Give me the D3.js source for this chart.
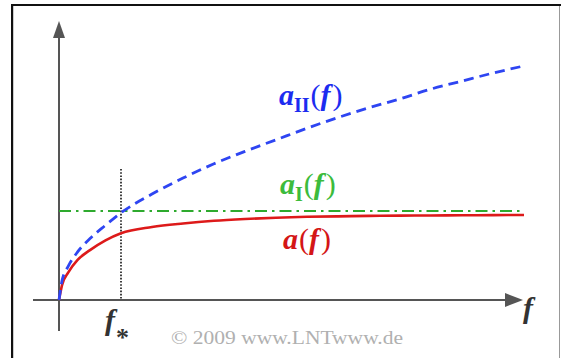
<!DOCTYPE html>
<html>
<head>
<meta charset="utf-8">
<script src="https://cdn.jsdelivr.net/npm/d3@7"></script>
<style>
html,body{margin:0;padding:0;background:#fff;}
svg{display:block;}
</style>
</head>
<body>
<svg id="chart" width="561" height="358"></svg>
<script>
// ---- data (arbitrary units, f* = 1, a_I = 1) ----
const fValues   = [0, 0.05, 0.15, 0.3, 0.5, 0.75, 1, 1.5, 2, 2.5, 3, 3.5, 4, 4.5, 5, 5.5, 6, 6.5, 7, 7.5];
const aValues   = [0, 0.17, 0.31, 0.45, 0.56, 0.67, 0.75, 0.82, 0.86, 0.89, 0.91, 0.925, 0.935, 0.94, 0.945, 0.948, 0.95, 0.952, 0.954, 0.955];
const aIIValues = [0, 0.22, 0.38, 0.54, 0.69, 0.84, 0.98, 1.19, 1.37, 1.53, 1.67, 1.80, 1.93, 2.05, 2.16, 2.26, 2.37, 2.46, 2.55, 2.63];
const aIValue   = 1;
const fStar     = 1;
const copyright = "\u00A9 2009 www.LNTwww.de";

const svg = d3.select("#chart");

// frame
svg.append("line").attr("x1",12).attr("y1",5).attr("x2",561).attr("y2",5).attr("stroke","#111").attr("stroke-width",2);
svg.append("line").attr("x1",12).attr("y1",4).attr("x2",12).attr("y2",358).attr("stroke","#111").attr("stroke-width",2);
svg.append("line").attr("x1",13.5).attr("y1",6).attr("x2",13.5).attr("y2",358).attr("stroke","#ccc").attr("stroke-width",1);
svg.append("line").attr("x1",559.5).attr("y1",6).attr("x2",559.5).attr("y2",358).attr("stroke","#999").attr("stroke-width",1);

// scales
const x = d3.scaleLinear().domain([0, 7.5]).range([59, 524]);
const y = d3.scaleLinear().domain([0, 1]).range([300, 211]);

const axisColor = "#555";
// x axis
svg.append("line").attr("x1",33).attr("x2",506).attr("y1",y(0)).attr("y2",y(0))
  .attr("stroke",axisColor).attr("stroke-width",2);
svg.append("path").attr("d",`M505,293 L523,${y(0)} L505,307 Z`).attr("fill",axisColor);
// y axis
svg.append("line").attr("x1",x(0)).attr("x2",x(0)).attr("y1",331).attr("y2",36)
  .attr("stroke",axisColor).attr("stroke-width",2);
svg.append("path").attr("d",`M53,38 L${x(0)},21 L65,38 Z`).attr("fill",axisColor);

// f* dotted line
svg.append("line").attr("x1",x(fStar)).attr("x2",x(fStar)).attr("y1",169).attr("y2",y(0))
  .attr("stroke","#111").attr("stroke-width",1.6).attr("stroke-dasharray","1.6,1.6");

const line = (vals) => d3.line().x((d,i)=>x(fValues[i])).y(d=>y(d)).curve(d3.curveMonotoneX)(vals);

// a_I (green dash-dot)
svg.append("line").attr("x1",x(0)).attr("x2",x(7.5)).attr("y1",y(aIValue)).attr("y2",y(aIValue))
  .attr("stroke","#2eaa2e").attr("stroke-width",2).attr("stroke-dasharray","12,5,2.5,5");

// a (red solid)
svg.append("path").attr("d",line(aValues)).attr("fill","none")
  .attr("stroke","#dd1a1a").attr("stroke-width",2.6);

// a_II (blue dashed)
svg.append("path").attr("d",line(aIIValues)).attr("fill","none")
  .attr("stroke","#2e45f2").attr("stroke-width",2.8).attr("stroke-dasharray","10,6");

// labels
const serif = "'Liberation Serif','Times New Roman',serif";
function label(xp, yp, sub, color){
  const t = svg.append("text").attr("x",xp).attr("y",yp).attr("fill",color)
    .attr("font-family",serif).attr("font-size",30);
  t.append("tspan").attr("font-style","italic").attr("font-weight","bold").text("a");
  if(sub){
    t.append("tspan").attr("font-size",20).attr("font-weight","bold").attr("dy",7).text(sub);
    t.append("tspan").attr("dy",-7).attr("dx",1).text("(");
  } else {
    t.append("tspan").attr("dx",1).text("(");
  }
  t.append("tspan").attr("font-style","italic").attr("font-weight","bold").text("f");
  t.append("tspan").attr("dx",2).text(")");
}
label(279, 105, "II", "#1c2cf0");
label(280, 194, "I", "#3cbb3c");
label(283, 249, null, "#d41616");

// axis label f
svg.append("text").attr("x",523).attr("y",318).attr("fill","#333")
  .attr("font-family",serif).attr("font-size",30).attr("font-style","italic").attr("font-weight","bold").text("f");
// f*
const fs = svg.append("text").attr("x",105).attr("y",330).attr("fill","#333")
  .attr("font-family",serif).attr("font-size",30).attr("font-style","italic").attr("font-weight","bold");
fs.append("tspan").text("f");
fs.append("tspan").attr("font-style","normal").attr("font-size",26).attr("dy",16).attr("dx",1).text("*");

// copyright
svg.append("text").attr("x",171).attr("y",344).attr("fill","#b0b0b0")
  .attr("font-family",serif).attr("font-size",19).attr("textLength",232)
  .attr("lengthAdjust","spacingAndGlyphs").text(copyright);
</script>
</body>
</html>
